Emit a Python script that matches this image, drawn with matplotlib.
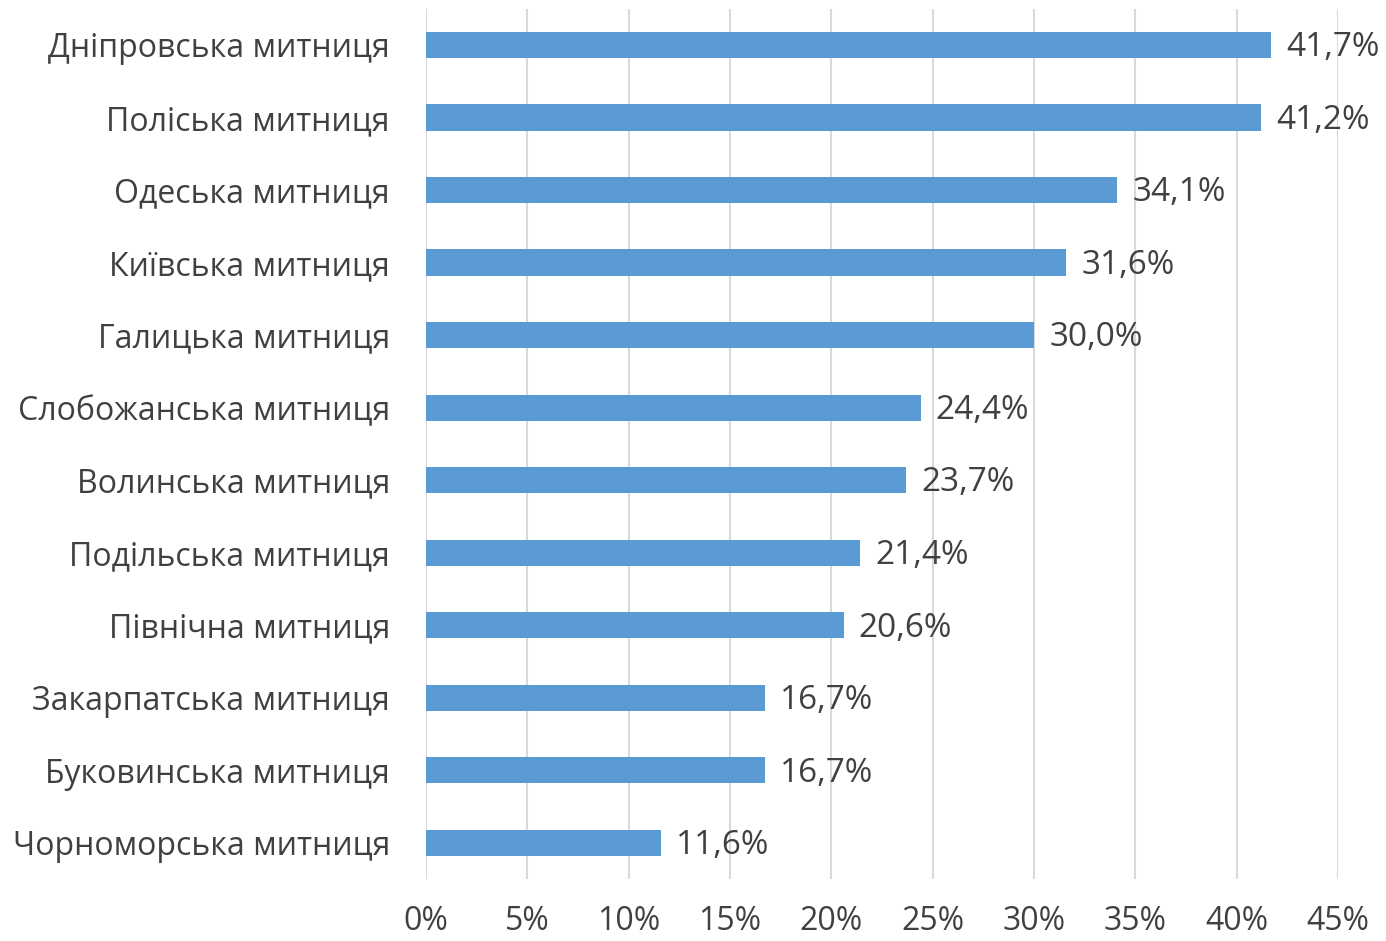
import matplotlib.pyplot as plt
from matplotlib.ticker import FuncFormatter

customs = [
    "Дніпровська митниця",
    "Поліська митниця",
    "Одеська митниця",
    "Київська митниця",
    "Галицька митниця",
    "Слобожанська митниця",
    "Волинська митниця",
    "Подільська митниця",
    "Північна митниця",
    "Закарпатська митниця",
    "Буковинська митниця",
    "Чорноморська митниця",
]
shares = [41.7, 41.2, 34.1, 31.6, 30.0, 24.4, 23.7, 21.4, 20.6, 16.7, 16.7, 11.6]
xticks = [0, 5, 10, 15, 20, 25, 30, 35, 40, 45]

text_color = "#404040"
plt.rcParams["font.family"] = ["Open Sans", "DejaVu Sans"]

fig = plt.figure(figsize=(13.86, 9.41), dpi=100)
ax = fig.add_axes([0.3074, 0.0659, 0.6580, 0.9249])

y = list(range(len(customs)))
ax.barh(y, shares, height=0.36, color="#5B9BD5", zorder=3)

for yi, v in zip(y, shares):
    ax.text(v + 0.75, yi + 0.04, f"{v:.1f}%".replace(".", ","), va="center", ha="left",
            fontsize=24, color=text_color, zorder=4)

ax.set_yticks(y)
ax.set_yticklabels(customs, fontsize=23, color=text_color)
ax.set_ylim(len(customs) - 0.5, -0.5)

ax.set_xlim(0, 45)
ax.set_xticks(xticks)
ax.xaxis.set_major_formatter(FuncFormatter(lambda v, p: f"{v:.0f}%"))
ax.tick_params(axis="x", labelsize=23, labelcolor=text_color, length=0, pad=19)
ax.tick_params(axis="y", length=0, pad=26)
ax.grid(axis="x", color="#d9d9d9", linewidth=1.5, zorder=0)

for s in ax.spines.values():
    s.set_visible(False)

fig.savefig("out.png", dpi=100)
